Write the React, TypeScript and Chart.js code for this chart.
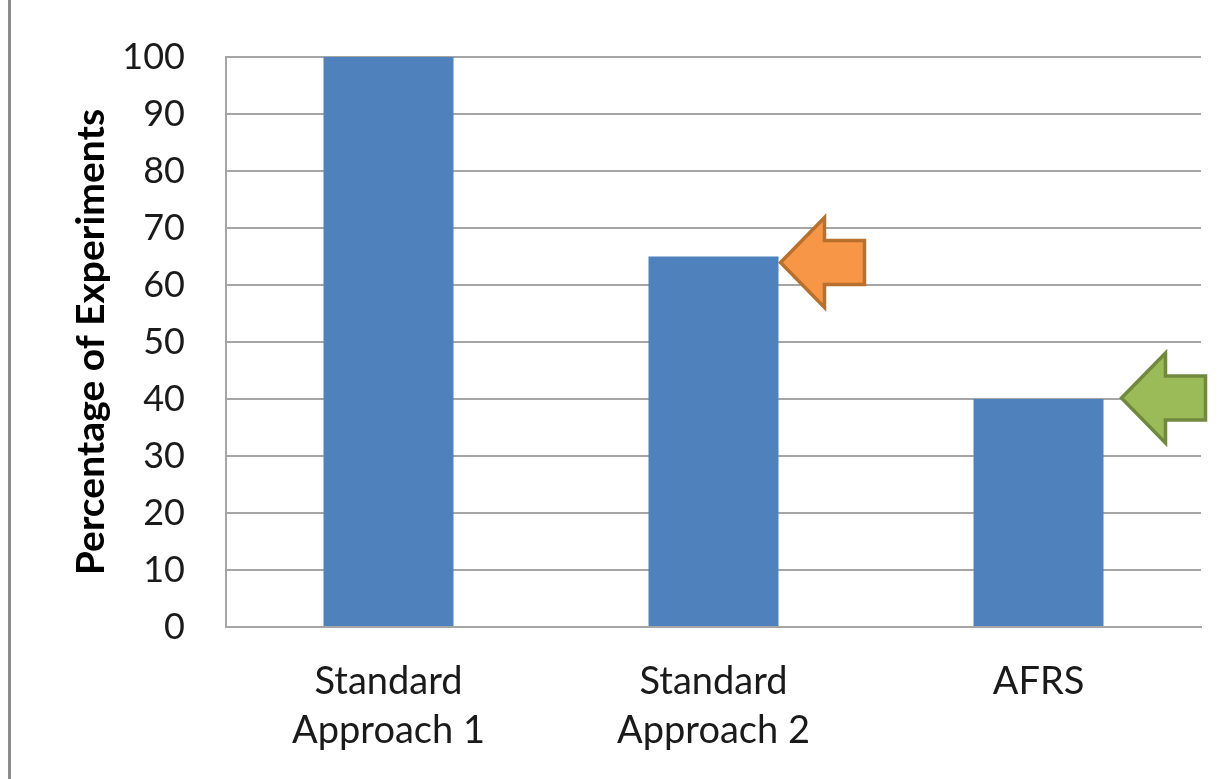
import React, { useEffect, useRef } from "react";
import { Chart, registerables } from "chart.js";

Chart.register(...registerables);

const categories: string[][] = [
  ["Standard", "Approach 1"],
  ["Standard", "Approach 2"],
  ["AFRS"],
];
const percentages: number[] = [100, 65, 40];
const yTicks: number[] = [0, 10, 20, 30, 40, 50, 60, 70, 80, 90, 100];
const yAxisTitle = "Percentage of Experiments";
// bars that get a pointing arrow next to their top
const highlightedBars: number[] = [1, 2];

const FONT = "Lato, 'Open Sans', sans-serif";
const W = 1228;
const H = 779;

const arrowStyles = [
  { fill: "#F79646", stroke: "#B8702F", gap: 2, dy: 6 },
  { fill: "#9BBB59", stroke: "#71893F", gap: 18, dy: -1 },
];

const decorations = {
  id: "decorations",
  beforeDraw(chart: any) {
    const { ctx } = chart;
    ctx.save();
    ctx.fillStyle = "#8C8C8C";
    ctx.fillRect(8, 0, 3, chart.height);
    ctx.restore();
  },
  afterDraw(chart: any) {
    const { ctx } = chart;
    const meta = chart.getDatasetMeta(0);
    const yScale = chart.scales.y;
    highlightedBars.forEach((idx, k) => {
      const bar = meta.data[idx];
      const style = arrowStyles[k];
      const half = bar.width / 2;
      const tx = bar.x + half + style.gap;
      const ty = yScale.getPixelForValue(percentages[idx]) + style.dy;
      const headLen = 44;
      const headHalf = 45;
      const shaftHalf = 22;
      const total = 84;
      ctx.save();
      ctx.beginPath();
      ctx.moveTo(tx, ty);
      ctx.lineTo(tx + headLen, ty - headHalf);
      ctx.lineTo(tx + headLen, ty - shaftHalf);
      ctx.lineTo(tx + total, ty - shaftHalf);
      ctx.lineTo(tx + total, ty + shaftHalf);
      ctx.lineTo(tx + headLen, ty + shaftHalf);
      ctx.lineTo(tx + headLen, ty + headHalf);
      ctx.closePath();
      ctx.fillStyle = style.fill;
      ctx.fill();
      ctx.lineWidth = 3.5;
      ctx.lineJoin = "miter";
      ctx.strokeStyle = style.stroke;
      ctx.stroke();
      ctx.restore();
    });
  },
};

export default function App() {
  const canvasRef = useRef<HTMLCanvasElement | null>(null);

  useEffect(() => {
    const canvas = canvasRef.current;
    if (!canvas) return;
    const chart = new Chart(canvas, {
      type: "bar",
      data: {
        labels: categories,
        datasets: [
          {
            data: percentages,
            backgroundColor: "#4F81BD",
            borderWidth: 0,
            barPercentage: 0.4,
            categoryPercentage: 1,
          },
        ],
      },
      options: {
        responsive: false,
        animation: false,
        devicePixelRatio: 1,
        layout: { padding: { top: 57, right: 27, left: 0, bottom: 0 } },
        plugins: {
          legend: { display: false },
          tooltip: { enabled: false },
        },
        scales: {
          x: {
            grid: { display: false, drawTicks: false },
            border: { display: true, color: "#A5A5A5", width: 2 },
            ticks: {
              color: "#1A1A1A",
              padding: 30,
              font: { family: FONT, size: 38, lineHeight: 1.3 },
              maxRotation: 0,
              autoSkip: false,
            },
            afterFit(scale: any) {
              scale.height = 152;
            },
          },
          y: {
            min: 0,
            max: 100,
            afterBuildTicks(scale: any) {
              scale.ticks = yTicks.map((v) => ({ value: v }));
            },
            grid: { color: "#A5A5A5", lineWidth: 2, drawTicks: false },
            border: { display: true, color: "#A5A5A5", width: 2 },
            ticks: {
              color: "#1A1A1A",
              padding: 41,
              font: { family: FONT, size: 36 },
            },
            title: {
              display: true,
              text: yAxisTitle,
              color: "#000000",
              font: { family: FONT, size: 39, weight: "bold" },
              padding: { top: 68, bottom: 0 },
            },
            afterFit(scale: any) {
              scale.width = 226;
              // keep the label gap from pushing the plot area down
              scale.paddingTop = 0;
              scale.paddingBottom = 0;
            },
          },
        },
      },
      plugins: [decorations],
    });
    return () => chart.destroy();
  }, []);

  return (
    <div style={{ position: "absolute", left: 0, top: 0, width: W, height: H, background: "#fff" }}>
      <canvas ref={canvasRef} width={W} height={H} style={{ display: "block" }} />
    </div>
  );
}
